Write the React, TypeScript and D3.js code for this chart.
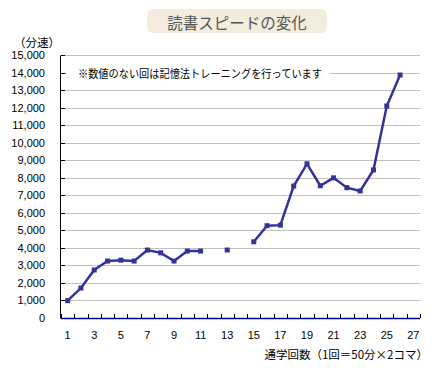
import React from "react";
import * as d3 from "d3";

// 通学回数 1..27, null = 記憶法トレーニングの回
const sessions = d3.range(1, 28);
const speeds: (number | null)[] = [
  990, 1710, 2740, 3250, 3300, 3250, 3880, 3720, 3250, 3820,
  3820, null, 3880, null, 4350, 5270, 5300, 7530, 8800, 7550,
  8000, 7440, 7250, 8450, 12100, 13870, null,
];
const yTicks = d3.range(0, 15001, 1000);
const xTickLabels = sessions.filter((s) => s % 2 === 1);

const title = "読書スピードの変化";
const yTitle = "（分速）";
const xTitle = "通学回数（1回＝50分×2コマ）";
const note = "※数値のない回は記憶法トレーニングを行っています";

const W = 432;
const H = 368;
const jp = "'Noto Sans CJK JP', 'Noto Sans', sans-serif";
const num = "'Liberation Sans', Arial, sans-serif";

export default function App() {
  const x = d3.scaleBand<number>().domain(sessions).range([61, 420]).padding(0);
  const y = d3.scaleLinear().domain([0, 15000]).range([318, 55.2]);
  const cx = (s: number) => (x(s) as number) + x.bandwidth() / 2;

  const pts = sessions.map((s, i) => ({ s, v: speeds[i] }));
  const line = d3
    .line<{ s: number; v: number | null }>()
    .defined((d) => d.v != null)
    .x((d) => cx(d.s))
    .y((d) => y(d.v as number));

  const fmt = d3.format(",");
  const boundaries = sessions.map((s) => x(s) as number).concat([420]);

  return (
    <svg width={W} height={H} style={{ position: "absolute", left: 0, top: 0, background: "#fff" }}>
      {/* title */}
      <rect x={147} y={9} width={180} height={24} rx={6} fill="#f3ecdf" />
      <text x={237} y={21.5} textAnchor="middle" dominantBaseline="central" fontFamily={jp} fontSize={15.5} fill="#555">
        {title}
      </text>

      {/* grid */}
      {yTicks.slice(1).map((t) => (
        <line key={t} x1={61} x2={420} y1={Math.round(y(t)) + 0.5} y2={Math.round(y(t)) + 0.5} stroke="#c0c0c0" />
      ))}

      {/* note */}
      <rect x={67} y={y(14000) - 8} width={263} height={16} fill="#fff" />
      <text x={78} y={y(14000)} dominantBaseline="central" fontFamily={jp} fontSize={11.5} fill="#000" textLength={244} lengthAdjust="spacingAndGlyphs">
        {note}
      </text>

      {/* y axis */}
      <line x1={60.5} x2={60.5} y1={Math.round(y(15000)) + 0.5} y2={318.5} stroke="#000" />
      {yTicks.map((t) => (
        <g key={t}>
          <line x1={61} x2={65} y1={Math.round(y(t)) + 0.5} y2={Math.round(y(t)) + 0.5} stroke="#000" />
          <text x={45} y={y(t)} textAnchor="end" dominantBaseline="central" fontFamily={num} fontSize={11} fill="#000">
            {fmt(t)}
          </text>
        </g>
      ))}
      <text x={37} y={42} textAnchor="middle" dominantBaseline="central" fontFamily={jp} fontSize={11.5} fill="#000">
        {yTitle}
      </text>

      {/* x axis */}
      {boundaries.map((b, i) => (
        <line key={i} x1={Math.round(b) + 0.5} x2={Math.round(b) + 0.5} y1={314} y2={318} stroke="#000" />
      ))}
      <line x1={61} x2={420} y1={318.5} y2={318.5} stroke="#000080" strokeWidth={1.5} />
      {xTickLabels.map((s) => (
        <text key={s} x={cx(s)} y={335} textAnchor="middle" dominantBaseline="central" fontFamily={num} fontSize={11} fill="#000">
          {s}
        </text>
      ))}
      <text x={428} y={354} textAnchor="end" dominantBaseline="central" fontFamily={jp} fontSize={11.5} fill="#000">
        {xTitle}
      </text>

      {/* series */}
      <path d={line(pts) || ""} fill="none" stroke="#333399" strokeWidth={2.5} />
      {pts
        .filter((d) => d.v != null)
        .map((d) => (
          <rect key={d.s} x={cx(d.s) - 2.5} y={y(d.v as number) - 2.5} width={5} height={5} fill="#333399" />
        ))}
    </svg>
  );
}
